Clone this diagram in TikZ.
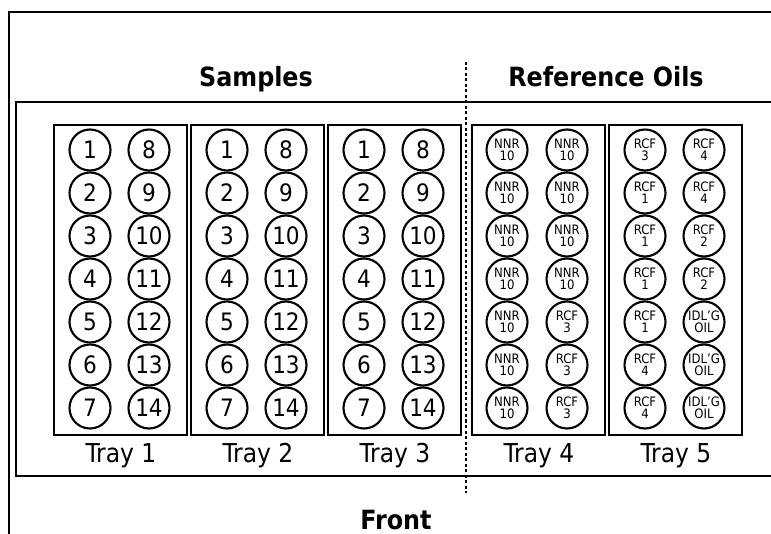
\documentclass[tikz,border=0pt]{standalone}
\usepackage{fontspec}
\setmainfont{DejaVu Sans Condensed}
\begin{document}
\begin{tikzpicture}[x=1pt,y=-1pt,
  frameline/.style={line width=2.3pt},
  tray/.style={draw, line width=2.3pt, minimum width=133pt, minimum height=310pt, anchor=north west, inner sep=0pt},
  well/.style={circle, draw, line width=2.1pt, minimum size=41pt, inner sep=0pt, font=\fontsize{24}{24}\selectfont},
  smallwell/.style={well, font=\fontsize{13}{12}\selectfont, align=center},
  title/.style={font=\fontsize{26.5}{26.5}\selectfont\bfseries, anchor=base, inner sep=0pt},
  traylabel/.style={font=\fontsize{26}{26}\selectfont, anchor=base, inner sep=0pt},
  divider/.style={line width=2.2pt, dash pattern=on 3pt off 2.5pt}]
\useasboundingbox (0,0) rectangle (771,534);
% frames
\coordinate (oa) at (9,534);
\coordinate (ob) at (9,12);
\coordinate (oc) at (771,12);
\draw[frameline] (oa) -- (ob) -- (oc);
\coordinate (ia) at (771,102);
\coordinate (ib) at (16,102);
\coordinate (ic) at (16,476);
\coordinate (id) at (771,476);
\draw[frameline] (ia) -- (ib) -- (ic) -- (id);
% divider
\coordinate (da) at (466,62);
\coordinate (db) at (466,493);
\draw[divider] (da) -- (db);
% titles
\node[title] (samples) at (256,87) {Samples};
\node[title] (refoils) at (606,87) {Reference Oils};
\node[title] (front) at (396,529) {Front};
% sample trays
\foreach \t/\x in {1/53,2/190,3/327}{
  \node[tray] (tray\t) at (\x,124) {};
  \node[traylabel] (label\t) at (\x+68,462) {Tray \t};
  \foreach \r in {1,...,7}{
    \pgfmathtruncatemacro{\rr}{\r+7}
    \node[well] (t\t a\r) at (\x+37,150+43*\r-43) {\r};
    \node[well] (t\t b\r) at (\x+96,150+43*\r-43) {\rr};
  }
}
% reference trays
\node[tray] (tray4) at (471,124) {};
\node[traylabel] (label4) at (539,462) {Tray 4};
\node[tray] (tray5) at (608,124) {};
\node[traylabel] (label5) at (676,462) {Tray 5};
\foreach \r/\a/\b in {1/{NNR\\10}/{NNR\\10},2/{NNR\\10}/{NNR\\10},3/{NNR\\10}/{NNR\\10},4/{NNR\\10}/{NNR\\10},5/{NNR\\10}/{RCF\\3},6/{NNR\\10}/{RCF\\3},7/{NNR\\10}/{RCF\\3}}{
  \node[smallwell] (t4a\r) at (471+36,150+43*\r-43) {\a};
  \node[smallwell] (t4b\r) at (471+96,150+43*\r-43) {\b};
}
\foreach \r/\a/\b in {1/{RCF\\3}/{RCF\\4},2/{RCF\\1}/{RCF\\4},3/{RCF\\1}/{RCF\\2},4/{RCF\\1}/{RCF\\2},5/{RCF\\1}/{IDL'G\\OIL},6/{RCF\\4}/{IDL'G\\OIL},7/{RCF\\4}/{IDL'G\\OIL}}{
  \node[smallwell] (t5a\r) at (608+37,150+43*\r-43) {\a};
  \node[smallwell] (t5b\r) at (608+96,150+43*\r-43) {\b};
}
\end{tikzpicture}
\end{document}
